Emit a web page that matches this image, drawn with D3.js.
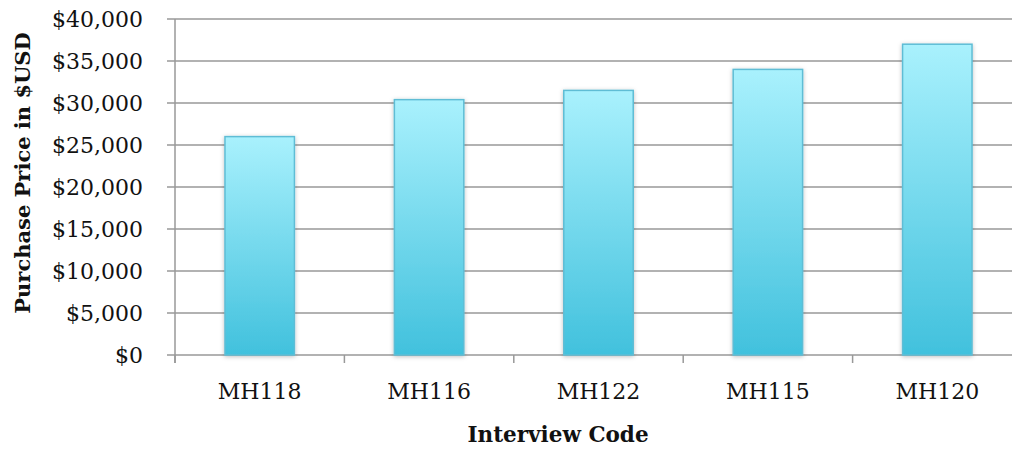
<!DOCTYPE html>
<html>
<head>
<meta charset="utf-8">
<script src="https://cdn.jsdelivr.net/npm/d3@7"></script>
<style>
  html, body { margin: 0; padding: 0; background: #fff; }
  svg { display: block; font-family: "DejaVu Serif", serif; }
</style>
</head>
<body>
<svg id="chart" width="1012" height="453"></svg>
<script>
// Purchase price per interview
const codes = ["MH118", "MH116", "MH122", "MH115", "MH120"];
const prices = [26000, 30400, 31500, 34000, 37000];
const yTicks = [0, 5000, 10000, 15000, 20000, 25000, 30000, 35000, 40000];

const svg = d3.select("#chart");
const plotLeft = 175, plotRight = 1022, plotTop = 19, plotBottom = 355;

const x = d3.scaleBand().domain(codes).range([plotLeft, plotRight]).paddingInner(0.59).paddingOuter(0.295);
const y = d3.scaleLinear().domain([0, 40000]).range([plotBottom, plotTop]);

const defs = svg.append("defs");
const grad = defs.append("linearGradient").attr("id", "barFill")
  .attr("x1", 0).attr("y1", 0).attr("x2", 0).attr("y2", 1);
grad.append("stop").attr("offset", "0%").attr("stop-color", "#a9f1fd");
grad.append("stop").attr("offset", "100%").attr("stop-color", "#41c1dd");
const shadow = defs.append("filter").attr("id", "barShadow")
  .attr("x", "-20%").attr("y", "-20%").attr("width", "140%").attr("height", "140%");
shadow.append("feDropShadow").attr("dx", 0).attr("dy", 1).attr("stdDeviation", 2)
  .attr("flood-color", "#000").attr("flood-opacity", 0.25);

// horizontal gridlines
svg.append("g").selectAll("line").data(yTicks).join("line")
  .attr("x1", plotLeft - 8).attr("x2", 1012)
  .attr("y1", d => y(d)).attr("y2", d => y(d))
  .attr("stroke", "#999").attr("stroke-width", 1.5);

// y axis line
svg.append("line").attr("x1", plotLeft).attr("x2", plotLeft)
  .attr("y1", plotTop).attr("y2", plotBottom + 8)
  .attr("stroke", "#999").attr("stroke-width", 1.5);

// x ticks at category boundaries
const boundaryX = [plotLeft].concat(codes.slice(1).map((c, i) => plotLeft + x.step() * (i + 1)));
svg.append("g").selectAll("line").data(boundaryX).join("line")
  .attr("x1", d => d).attr("x2", d => d)
  .attr("y1", plotBottom).attr("y2", plotBottom + 8)
  .attr("stroke", "#999").attr("stroke-width", 1.5);

// y tick labels
const fmt = d3.format("$,");
svg.append("g").selectAll("text").data(yTicks).join("text")
  .attr("x", 143).attr("y", d => y(d) + 8)
  .attr("text-anchor", "end")
  .attr("font-size", 22).attr("fill", "#111")
  .text(d => fmt(d));

// bars
svg.append("g").selectAll("rect").data(codes).join("rect")
  .attr("x", d => x(d)).attr("width", x.bandwidth())
  .attr("y", (d, i) => y(prices[i]))
  .attr("height", (d, i) => y(0) - y(prices[i]))
  .attr("fill", "url(#barFill)")
  .attr("stroke", "#5fbdd5").attr("stroke-width", 1.5)
  .attr("filter", "url(#barShadow)");

// x labels
svg.append("g").selectAll("text").data(codes).join("text")
  .attr("x", d => x(d) + x.bandwidth() / 2).attr("y", 399)
  .attr("text-anchor", "middle")
  .attr("font-size", 22).attr("fill", "#111")
  .text(d => d);

// axis titles
svg.append("text")
  .attr("transform", "translate(30,173) rotate(-90)")
  .attr("text-anchor", "middle")
  .attr("font-size", 21).attr("font-weight", "bold").attr("fill", "#111")
  .text("Purchase Price in $USD");

svg.append("text")
  .attr("x", 558).attr("y", 442)
  .attr("text-anchor", "middle")
  .attr("font-size", 21.5).attr("font-weight", "bold").attr("fill", "#111")
  .text("Interview Code");
</script>
</body>
</html>
